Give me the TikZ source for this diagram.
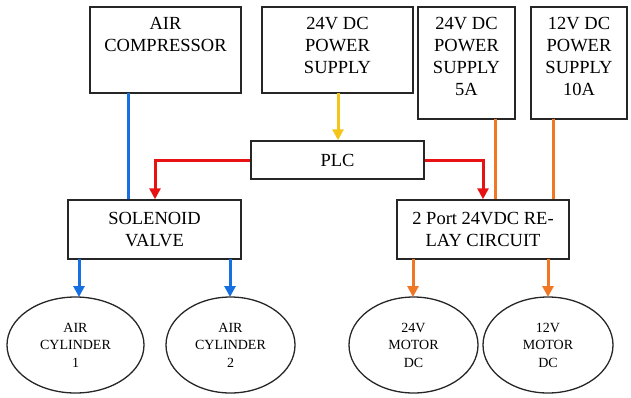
\documentclass[tikz,border=0pt]{standalone}
\usepackage{fontspec}
\setmainfont{Liberation Serif}
\usetikzlibrary{arrows.meta,shapes.geometric}
\definecolor{cblue}{RGB}{22,112,226}
\definecolor{cred}{RGB}{232,18,18}
\definecolor{cyel}{RGB}{245,196,24}
\definecolor{corange}{RGB}{240,120,36}
\begin{document}
\begin{tikzpicture}[x=1pt,y=-1pt,
  boxs/.style={draw=black!85,line width=1.5pt,rectangle},
  ells/.style={draw=black!85,line width=1.3pt,ellipse},
  btxt/.style={font=\fontsize{18.5}{22}\selectfont,align=center,inner sep=0pt},
  etxt/.style={font=\fontsize{14}{17.5}\selectfont,align=center,inner sep=0pt},
  conn/.style={line width=3pt,-{Triangle[width=11pt,length=11pt]}},
  plain/.style={line width=3pt}]
\useasboundingbox (0,0) rectangle (631,397);
% boxes
\draw[boxs] (90,7) rectangle (241,93);
\node[btxt,anchor=north] (ac) at (165.5,17.5) {AIR\\COMPRESSOR};
\draw[boxs] (262,7) rectangle (413,93);
\node[btxt,anchor=north] (ps24) at (337.5,17.5) {24V DC\\POWER\\SUPPLY};
\draw[boxs] (418,7) rectangle (515,119);
\node[btxt,anchor=north] (ps5) at (466.5,17.5) {24V DC\\POWER\\SUPPLY\\5A};
\draw[boxs] (531,7) rectangle (627,119);
\node[btxt,anchor=north] (ps10) at (579,17.5) {12V DC\\POWER\\SUPPLY\\10A};
\node[boxs,btxt,minimum width=173pt,minimum height=38pt] (plc) at (337.5,160) {PLC};
\node[boxs,btxt,minimum width=173pt,minimum height=59pt] (sol) at (154.5,229.5) {SOLENOID\\VALVE};
\node[boxs,btxt,minimum width=172pt,minimum height=59pt] (relay) at (483,229.5) {2 Port 24VDC RE-\\LAY CIRCUIT};
% ellipses
\node[ells,etxt,minimum width=137pt,minimum height=96pt] (cyl1) at (75.5,345) {AIR\\CYLINDER\\1};
\node[ells,etxt,minimum width=129pt,minimum height=96pt] (cyl2) at (230.5,345) {AIR\\CYLINDER\\2};
\node[ells,etxt,minimum width=129pt,minimum height=96pt] (m24) at (413.5,345) {24V\\MOTOR\\DC};
\node[ells,etxt,minimum width=130pt,minimum height=96pt] (m12) at (548,345) {12V\\MOTOR\\DC};
% coordinates for box bottoms
\coordinate (acB) at (128,93);
\coordinate (ps24B) at (338,93);
\coordinate (ps5B) at (495,119);
\coordinate (ps10B) at (553,119);
% connectors
\draw[plain,cblue] (acB) -- (acB |- sol.north);
\draw[conn,cyel] (ps24B) -- (ps24B |- plc.north);
\draw[conn,cred] (plc.west) -| ([xshift=0.5pt]sol.north);
\draw[conn,cred] (plc.east) -| (relay.north);
\draw[plain,corange] (ps5B) -- (ps5B |- relay.north);
\draw[plain,corange] (ps10B) -- (ps10B |- relay.north);
\draw[conn,cblue] (79,259) -- (79,297);
\draw[conn,cblue] (230,259) -- (230,297);
\draw[conn,corange] (413,259) -- (413,297);
\draw[conn,corange] (548,259) -- (548,297);
\end{tikzpicture}
\end{document}
